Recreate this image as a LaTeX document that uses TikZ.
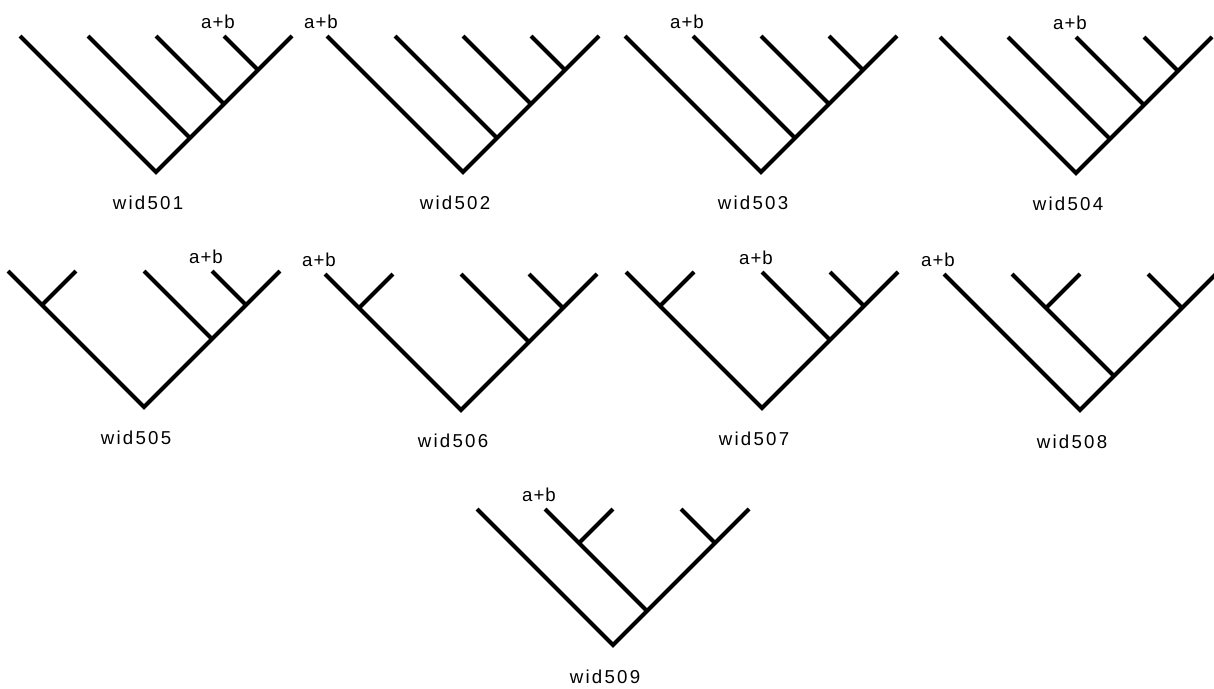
\documentclass[tikz,border=0pt]{standalone}
\usepackage{fontspec}
\setmainfont{Liberation Sans}
\newfontfamily\widfont[LetterSpace=12]{Liberation Sans}
\newfontfamily\abfont[LetterSpace=5]{Liberation Sans}
\usetikzlibrary{positioning}

\begin{document}
\begin{tikzpicture}[
  x=0.75pt,
  y=-0.75pt,
  branch/.style={
    line width=3pt,
    line cap=butt,
    color=black
  },
  ablabel/.style={
    font=\abfont\fontsize{14}{16}\selectfont,
    inner sep=0pt
  },
  widlabel/.style={
    font=\widfont\fontsize{14}{16}\selectfont,
    inner sep=0pt
  }
]
\useasboundingbox (0,0) rectangle (1214,689);

% Trees 501-504: leaves 1-3 join the right spine
\foreach \i/\x/\y/\k in {1/156/172/3, 2/463/172/0, 3/761/172/1, 4/1076/173/2} {
  \coordinate (r\i) at (\x,\y);
  \foreach \j in {0,...,4}
    \coordinate (l\i\j) at (\x-136+68*\j,\y-136);
  \coordinate (s\i1) at (\x+34,\y-34);
  \coordinate (s\i2) at (\x+68,\y-68);
  \coordinate (s\i3) at (\x+102,\y-102);
  \draw[branch] (l\i0) -- (r\i) -- (l\i4);
  \draw[branch] (l\i1) -- (s\i1);
  \draw[branch] (l\i2) -- (s\i2);
  \draw[branch] (l\i3) -- (s\i3);
  \node[ablabel]  (ab\i) at ([shift={(-6,-14)}]l\i\k) {a+b};
  \node[widlabel] (w\i)  at ([shift={(-8,31)}]r\i) {wid50\i};
}

% Trees 505-507: leaf 1 joins the left spine
\foreach \i/\x/\y/\k in {5/144/407/3, 6/461/410/0, 7/762/408/2} {
  \coordinate (r\i) at (\x,\y);
  \foreach \j in {0,...,4}
    \coordinate (l\i\j) at (\x-136+68*\j,\y-136);
  \coordinate (a\i)  at (\x-102,\y-102);
  \coordinate (s\i2) at (\x+68,\y-68);
  \coordinate (s\i3) at (\x+102,\y-102);
  \draw[branch] (l\i0) -- (r\i) -- (l\i4);
  \draw[branch] (l\i1) -- (a\i);
  \draw[branch] (l\i2) -- (s\i2);
  \draw[branch] (l\i3) -- (s\i3);
  \node[ablabel]  (ab\i) at ([shift={(-6,-14)}]l\i\k) {a+b};
  \node[widlabel] (w\i)  at ([shift={(-8,31)}]r\i) {wid50\i};
}

% Trees 508-509: leaf 2 joins the branch of leaf 1
\foreach \i/\x/\y/\k in {8/1080/410/0, 9/613/645/1} {
  \coordinate (r\i) at (\x,\y);
  \foreach \j in {0,...,4}
    \coordinate (l\i\j) at (\x-136+68*\j,\y-136);
  \coordinate (s\i1) at (\x+34,\y-34);
  \coordinate (b\i)  at (\x-34,\y-102);
  \coordinate (s\i3) at (\x+102,\y-102);
  \draw[branch] (l\i0) -- (r\i) -- (l\i4);
  \draw[branch] (l\i1) -- (s\i1);
  \draw[branch] (l\i2) -- (b\i);
  \draw[branch] (l\i3) -- (s\i3);
  \node[ablabel]  (ab\i) at ([shift={(-6,-14)}]l\i\k) {a+b};
  \node[widlabel] (w\i)  at ([shift={(-8,32)}]r\i) {wid50\i};
}

\end{tikzpicture}
\end{document}
